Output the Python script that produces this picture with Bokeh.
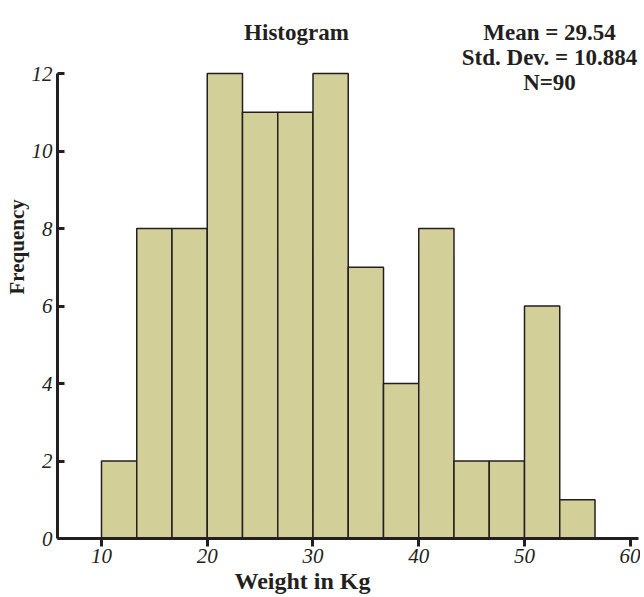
import numpy as np
from bokeh.plotting import figure
from bokeh.models import Range1d, Label, FixedTicker, ColumnDataSource, Title
from bokeh.embed import file_html
from bokeh.resources import INLINE

# ---- data ----
bin_edges = [10.0, 13.333, 16.667, 20.0, 23.333, 26.667, 30.0, 33.333,
             36.667, 40.0, 43.333, 46.667, 50.0, 53.333, 56.667]
counts = [2, 8, 8, 12, 11, 11, 12, 7, 4, 8, 2, 2, 6, 1]
x_ticks = [10, 20, 30, 40, 50, 60]
y_ticks = [0, 2, 4, 6, 8, 10, 12]
title_text = "Histogram"
stats_lines = ["Mean = 29.54", "Std. Dev. = 10.884", "N=90"]
x_label = "Weight in Kg"
y_label = "Frequency"

INK = "#231f20"
FILL = "#d3cf99"
SERIF = "Liberation Serif"

W, H = 640, 596
FL, FR, FB = 57, 638, 538       # frame left/right/bottom in page pixels
Y12 = 73                        # page pixel of y = 12 (top of the axis)
y_top = 12 * FB / (FB - Y12)    # frame reaches the canvas top so labels fit

p = figure(width=W, height=H, output_backend="svg", toolbar_location=None,
           x_range=Range1d(5.84, 60.78), y_range=Range1d(0, y_top),
           min_border_left=FL, min_border_right=W - FR,
           min_border_top=0, min_border_bottom=H - FB)
p.xgrid.visible = False
p.ygrid.visible = False
p.outline_line_color = None
p.background_fill_color = "white"
p.border_fill_color = "white"

src = ColumnDataSource(dict(left=bin_edges[:-1], right=bin_edges[1:],
                            top=counts, bottom=[0] * len(counts)))
p.quad(left="left", right="right", top="top", bottom="bottom", source=src,
       fill_color=FILL, line_color=INK, line_width=1.5)

for ax, ticks in ((p.xaxis, x_ticks), (p.yaxis, y_ticks)):
    ax.ticker = FixedTicker(ticks=ticks)
    ax.axis_line_color = INK
    ax.axis_line_width = 3
    ax.major_tick_line_color = INK
    ax.major_tick_line_width = 3
    ax.minor_tick_line_color = None
    ax.major_label_text_font = SERIF
    ax.major_label_text_font_style = "italic"
    ax.major_label_text_font_size = "21px"
    ax.major_label_text_color = INK

p.yaxis.bounds = (0, 12)
p.xaxis.major_tick_in = 0
p.xaxis.major_tick_out = 8
p.xaxis.major_label_standoff = 2
p.yaxis.major_tick_in = 7
p.yaxis.major_tick_out = 0
p.yaxis.major_label_standoff = 5

def lab(text, px, py, size="23px"):
    p.add_layout(Label(x=px, y=py, x_units="canvas", y_units="canvas",
                       text=text, text_font=SERIF, text_font_style="bold",
                       text_font_size=size, text_color=INK,
                       text_align="center", text_baseline="alphabetic"))

lab(title_text, 296, 32)
for i, s in enumerate(stats_lines):
    lab(s, 549, 32 + 25 * i)

p.add_layout(Title(text=x_label, align="left", offset=177, standoff=0,
                   text_font=SERIF, text_font_style="bold",
                   text_font_size="24px", text_color=INK), "below")
p.add_layout(Title(text=y_label, align="left", offset=244, standoff=0,
                   text_font=SERIF, text_font_style="bold",
                   text_font_size="21px", text_color=INK), "left")

open("out.html", "w").write(file_html(p, INLINE))
